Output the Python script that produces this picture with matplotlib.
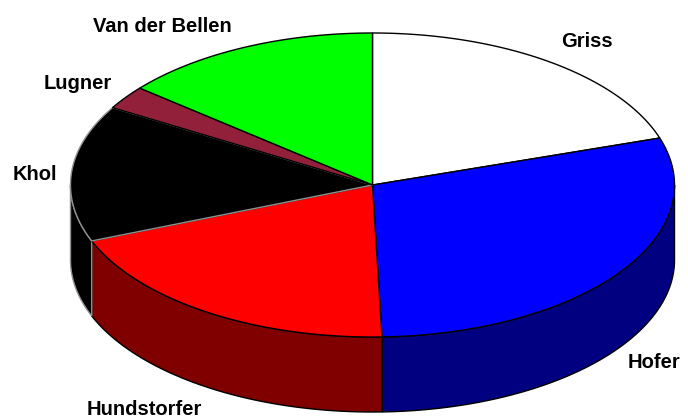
import numpy as np
import matplotlib
matplotlib.use("Agg")
import matplotlib.pyplot as plt
from matplotlib.patches import Polygon

# Data (clockwise from 12 o'clock)
candidates = ["Griss", "Hofer", "Hundstorfer", "Khol", "Lugner", "Van der Bellen"]
shares = [20.0, 29.5, 19.5, 14.5, 2.5, 14.0]
top_colors = ["#FFFFFF", "#0000FF", "#FF0000", "#000000", "#93203A", "#00FF00"]
side_colors = ["#BFBFBF", "#000080", "#800000", "#000000", "#4A1020", "#008000"]
edge_colors = ["black", "black", "black", "#909090", "black", "black"]
label_xy = [(587, 47), (654, 368), (144, 415), (35, 180), (78, 89), (162, 32)]

W, H = 688, 418
fig = plt.figure(figsize=(W / 100, H / 100), dpi=100)
ax = fig.add_axes([0, 0, 1, 1])
ax.set_xlim(0, W)
ax.set_ylim(H, 0)
ax.axis("off")

cx, cy, rx, ry, depth = 372.5, 185.0, 302.0, 152.0, 75.0


def pt(theta_deg, dy=0.0):
    t = np.radians(theta_deg)
    return cx + rx * np.sin(t), cy - ry * np.cos(t) + dy


total = sum(shares)
bounds = np.concatenate([[0], np.cumsum(shares) / total * 360.0])

# side walls (front half: 90..270 deg)
for i in range(len(shares)):
    a0, a1 = max(bounds[i], 90), min(bounds[i + 1], 270)
    if a1 <= a0:
        continue
    th = np.linspace(a0, a1, 100)
    topx, topy = pt(th)
    botx, boty = pt(th[::-1], depth)
    xs = np.concatenate([topx, botx])
    ys = np.concatenate([topy, boty])
    ax.add_patch(Polygon(np.column_stack([xs, ys]), closed=True,
                         facecolor=side_colors[i], edgecolor=edge_colors[i],
                         linewidth=1.0, zorder=2))

# top slices
for i in range(len(shares)):
    th = np.linspace(bounds[i], bounds[i + 1], 200)
    ex, ey = pt(th)
    xs = np.concatenate([[cx], ex])
    ys = np.concatenate([[cy], ey])
    ax.add_patch(Polygon(np.column_stack([xs, ys]), closed=True,
                         facecolor=top_colors[i], edgecolor=edge_colors[i],
                         linewidth=1.0, zorder=3))

for name, (lx, ly) in zip(candidates, label_xy):
    ax.text(lx, ly, name, ha="center", va="baseline", fontsize=14.5,
            fontweight="bold", family="Liberation Sans", color="black", zorder=5)

fig.savefig("out.png", dpi=100)
